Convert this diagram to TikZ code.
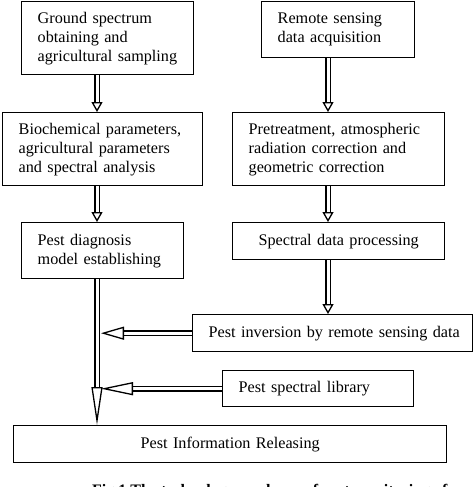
\documentclass[tikz,border=0pt]{standalone}
\usepackage{fontspec}
\setmainfont{Liberation Serif}
\usetikzlibrary{arrows.meta}
\begin{document}
\begin{tikzpicture}[x=1pt,y=-1pt,
  box/.style={draw, line width=1.4pt, anchor=north west, align=left, inner xsep=16pt, inner ysep=0pt,
    font=\fontsize{16.2}{19}\selectfont},
  cbox/.style={box, align=center},
  arr/.style={double, double distance=3pt, line width=1.3pt,
    -{Triangle[open, length=10pt, width=11pt, fill=white]}},
  longarr/.style={double, double distance=3pt, line width=1.3pt,
    -{Triangle[open, length=38pt, width=11pt, fill=white]}},
  sidearr/.style={double, double distance=3pt, line width=1.3pt,
    -{Triangle[open, length=#1, width=13pt, fill=white]}},
]
\useasboundingbox (0,0) rectangle (474,487);
\clip (0,0) rectangle (474,487);
\fill[white] (0,0) rectangle (474,487);
\node[box, text width=140pt, minimum height=73pt] (B1) at (21,1) {\mbox{Ground spectrum}\\\mbox{obtaining and}\\\mbox{agricultural sampling}};
\node[box, text width=168pt, minimum height=73pt] (B2) at (2,112) {\mbox{Biochemical parameters,}\\\mbox{agricultural parameters}\\\mbox{and spectral analysis}};
\node[box, text width=121pt, minimum height=56pt] (B3) at (261,1) {\mbox{Remote sensing}\\\mbox{data acquisition}};
\node[box, text width=180pt, minimum height=73pt] (B4) at (232,112) {\mbox{Pretreatment, atmospheric}\\\mbox{radiation correction and}\\\mbox{geometric correction}};
\node[box, text width=130pt, minimum height=56pt] (B5) at (21,222) {\mbox{Pest diagnosis}\\\mbox{model establishing}};
\node[cbox, text width=180pt, minimum height=37pt] (B6) at (232,222) {Spectral data processing};
\node[box, text width=248pt, minimum height=37pt] (B7) at (192,314) {\mbox{Pest inversion by remote sensing data}};
\node[box, text width=159pt, minimum height=36pt] (B8) at (222,370) {\mbox{Pest spectral library}};
\node[cbox, text width=401pt, minimum height=37pt] (B9) at (13,425) {Pest Information Releasing};
\coordinate (L) at (97,0);
\coordinate (R) at (328,0);
\coordinate (M) at (101,0);
\draw[arr] (B1.south -| L) -- (B2.north -| L);
\draw[arr] (B2.south -| L) -- (B5.north -| L);
\draw[arr] (B3.south -| R) -- (B4.north -| R);
\draw[arr] (B4.south -| R) -- (B6.north -| R);
\draw[arr] (B6.south -| R) -- (B7.north -| R);
\draw[longarr] (B5.south -| L) -- (B9.north -| L);
\draw[sidearr=23pt] (B7.west) -- (B7.west -| M);
\draw[sidearr=32pt] (B8.west) -- (B8.west -| M);
\node[anchor=base west, inner sep=0pt, font=\bfseries\fontsize{16}{19}\selectfont] (cap) at (92,495) {Fig.1 The technology roadmap of pest monitoring of};
\end{tikzpicture}
\end{document}
